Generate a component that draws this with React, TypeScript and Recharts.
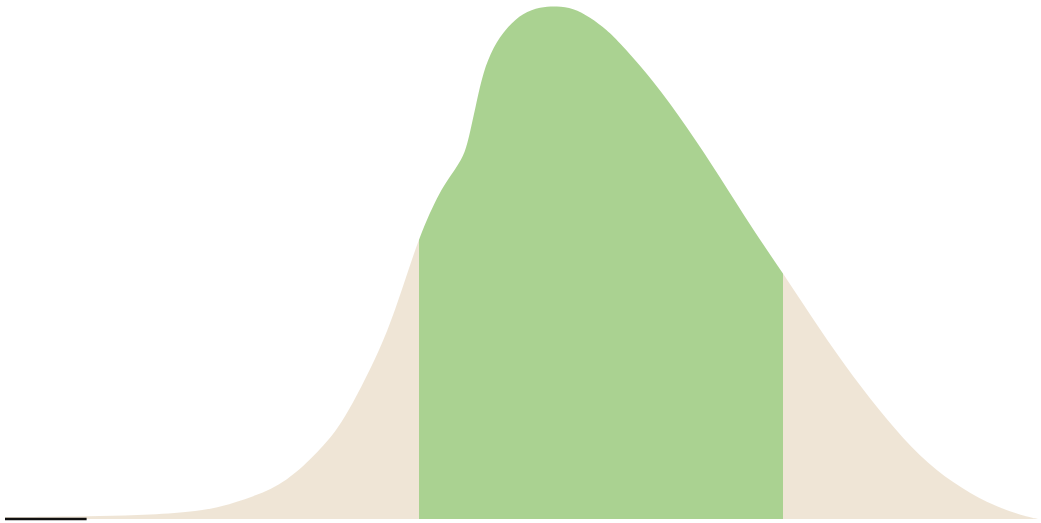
import * as React from "react";
import { ComposedChart, Area, XAxis, YAxis, ReferenceLine } from "recharts";

// density curve (x in 0..100, density scaled so the peak is 100)
const xs = [0, 4.36, 9.2, 14.04, 18.88, 20.81, 24.01, 27.3, 30.49, 32.14, 33.69, 35.33, 36.98, 38.53, 40.08, 42.11, 43.76, 44.53, 45.01, 45.69, 46.27, 47.24, 48.6, 50.15, 51.79, 53.44, 54.99, 56.63, 58.28, 59.54, 62.73, 66.02, 69.22, 72.41, 75.31, 78.9, 82.09, 85.38, 88.58, 91.77, 95.06, 98.26, 100];
const density = [0.39, 0.45, 0.58, 0.78, 1.56, 2.34, 4.29, 7.21, 13.45, 17.35, 22.61, 29.04, 36.26, 45.22, 54.97, 64.13, 68.62, 71.35, 75.24, 81.68, 86.94, 92.01, 95.91, 98.64, 99.81, 100, 99.61, 97.86, 95.32, 92.79, 85.58, 76.41, 66.67, 56.34, 47.95, 36.84, 27.68, 19.3, 12.09, 7.02, 3.12, 0.78, 0];

// highlighted interval
const bandStart = 40.08;
const bandEnd = 75.31;

// short marker on the baseline
const markerStart = 0;
const markerEnd = 7.9;

const data = xs.map((x, i) => ({ x, d: density[i] }));

const beige = "#efe5d6";
const green = "#aad291";

export default function App() {
  const xMin = xs[0];
  const xMax = xs[xs.length - 1];
  const s = (bandStart - xMin) / (xMax - xMin);
  const e = (bandEnd - xMin) / (xMax - xMin);
  return (
    <div style={{ position: "absolute", left: 0, top: 0, background: "#fff" }}>
      <ComposedChart width={1041} height={523} data={data} margin={{ top: 6, right: 3, bottom: 4, left: 5 }}>
        <defs>
          <linearGradient id="band" x1="0" y1="0" x2="1" y2="0">
            <stop offset={0} stopColor={beige} />
            <stop offset={s} stopColor={beige} />
            <stop offset={s} stopColor={green} />
            <stop offset={e} stopColor={green} />
            <stop offset={e} stopColor={beige} />
            <stop offset={1} stopColor={beige} />
          </linearGradient>
        </defs>
        <XAxis type="number" dataKey="x" domain={[xMin, xMax]} hide />
        <YAxis type="number" domain={[0, 100]} hide />
        <Area type="basis" dataKey="d" stroke="none" fill="url(#band)" fillOpacity={1} isAnimationActive={false} />
        <ReferenceLine segment={[{ x: markerStart, y: 0 }, { x: markerEnd, y: 0 }]} stroke="#111" strokeWidth={2.5} ifOverflow="visible" />
      </ComposedChart>
    </div>
  );
}
